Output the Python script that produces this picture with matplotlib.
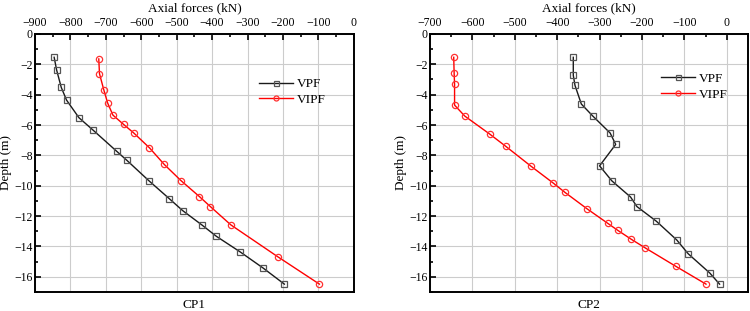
import matplotlib.pyplot as plt
from matplotlib.ticker import MultipleLocator

plt.rcParams['font.family'] = ['Liberation Serif', 'DejaVu Serif']

# CP1
cp1_vpf_force = [-846, -839, -826, -811, -776, -735, -669, -641, -579, -521, -483,
                 -429, -388, -320, -256, -196]
cp1_vpf_depth = [-1.54, -2.38, -3.52, -4.36, -5.52, -6.36, -7.74, -8.32, -9.66,
                 -10.85, -11.64, -12.58, -13.33, -14.37, -15.42, -16.48]
cp1_vipf_force = [-720, -718, -706, -695, -680, -650, -621, -577, -535, -488,
                  -436, -405, -347, -215, -97]
cp1_vipf_depth = [-1.65, -2.62, -3.67, -4.55, -5.35, -5.96, -6.53, -7.50, -8.60,
                  -9.66, -10.71, -11.37, -12.58, -14.67, -16.48]

# CP2
cp2_vpf_force = [-362, -362, -358, -343, -316, -275, -262, -300, -271, -227,
                 -212, -166, -118, -91, -40, -17]
cp2_vpf_depth = [-1.54, -2.73, -3.39, -4.62, -5.41, -6.53, -7.28, -8.69, -9.68,
                 -10.74, -11.37, -12.34, -13.57, -14.48, -15.75, -16.48]
cp2_vipf_force = [-644, -643, -642, -642, -618, -559, -521, -461, -409, -382,
                  -330, -281, -257, -225, -192, -120, -49]
cp2_vipf_depth = [-1.54, -2.60, -3.32, -4.69, -5.41, -6.60, -7.41, -8.73, -9.83,
                  -10.43, -11.51, -12.47, -12.94, -13.53, -14.10, -15.31, -16.48]

fig = plt.figure(figsize=(7.5, 3.11), dpi=100)
ax1 = fig.add_axes([0.0467, 0.061, 0.425, 0.83])
ax2 = fig.add_axes([0.5733, 0.061, 0.424, 0.83])

panels = [
    (ax1, cp1_vpf_force, cp1_vpf_depth, cp1_vipf_force, cp1_vipf_depth,
     (-900, 0), 'CP1', (0.95, 0.875)),
    (ax2, cp2_vpf_force, cp2_vpf_depth, cp2_vipf_force, cp2_vipf_depth,
     (-700, 50), 'CP2', (0.975, 0.895)),
]

for ax, vf, vd, rf, rd, xlim, name, leg_pos in panels:
    ax.plot(vf, vd, color='#1a1a1a', lw=1.0, marker='s', ms=4.5,
            mfc='none', mec='#555555', mew=0.9, label='VPF')
    ax.plot(rf, rd, color='#ff0000', lw=1.0, marker='o', ms=4.5,
            mfc='none', mec='#ff3030', mew=0.9, label='VIPF')
    ax.set_xlim(*xlim)
    ax.set_ylim(-17, 0)
    ax.xaxis.set_major_locator(MultipleLocator(100))
    ax.xaxis.set_minor_locator(MultipleLocator(50))
    ax.yaxis.set_major_locator(MultipleLocator(2))
    ax.yaxis.set_minor_locator(MultipleLocator(1))
    ax.xaxis.tick_top()
    ax.xaxis.set_label_position('top')
    ax.tick_params(which='both', direction='in', top=True, bottom=False,
                   right=False, labelsize=8.5, width=1.2, pad=1.5)
    ax.tick_params(axis='x', pad=3.5)
    ax.tick_params(which='major', length=4)
    ax.tick_params(which='minor', length=2.5)
    ax.grid(True, color='#cccccc', lw=0.8)
    ax.set_axisbelow(True)
    for s in ax.spines.values():
        s.set_linewidth(1.4)
    ax.set_xlabel('Axial forces (kN)', fontsize=9.5, labelpad=4)
    ax.set_ylabel('Depth (m)', fontsize=9.5, labelpad=2)
    ax.text(0.5, -0.028, name, transform=ax.transAxes, ha='center', va='top',
            fontsize=9.5)
    ax.legend(loc='upper right', bbox_to_anchor=leg_pos, frameon=False,
              fontsize=9.5, handlelength=2.6, handletextpad=0.3,
              labelspacing=0.25, markerscale=0.8)

fig.savefig('out.png', dpi=100)
